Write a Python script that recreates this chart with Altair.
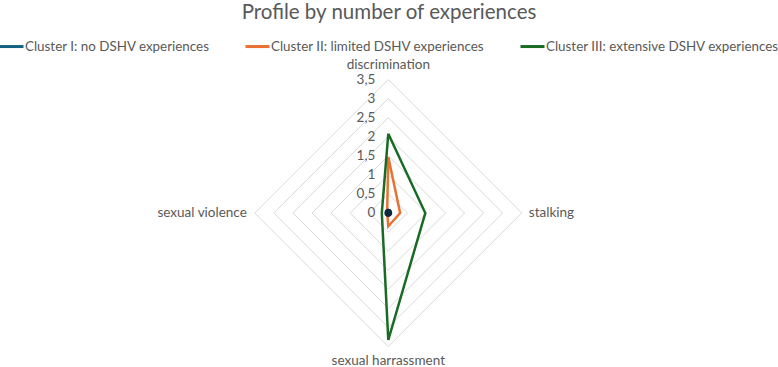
import altair as alt
import pandas as pd

# ---- data ----
axes_names = ["discrimination", "stalking", "sexual harrassment", "sexual violence"]
axes_angles = [0, 90, 180, 270]
clusters = [
    "Cluster I: no DSHV experiences",
    "Cluster II: limited DSHV experiences",
    "Cluster III: extensive DSHV experiences",
]
cluster1 = [0.03, 0.02, 0.02, 0.02]
cluster2 = [1.47, 0.31, 0.35, 0.03]
cluster3 = [2.08, 0.97, 3.33, 0.17]
colors = ["#156082", "#E97132", "#196B24"]
tick_values = [0, 0.5, 1, 1.5, 2, 2.5, 3, 3.5]
tick_labels = ["0", "0,5", "1", "1,5", "2", "2,5", "3", "3,5"]
title_text = "Profile by number of experiences"

FONT = "Lato"
GREY = "#595959"

# ---- tables ----
series_rows = []
for name, vals in zip(clusters, [cluster1, cluster2, cluster3]):
    for i in range(5):
        k = i % 4
        series_rows.append({"cluster": name, "order": i, "angle": axes_angles[k], "r": vals[k]})
series_df = pd.DataFrame(series_rows)

grid_rows = []
for tv in tick_values[1:]:
    for i in range(5):
        grid_rows.append({"ring": tv, "order": i, "angle": axes_angles[i % 4], "r": tv})
grid_df = pd.DataFrame(grid_rows)

tick_df = pd.DataFrame({"r": tick_values, "label": tick_labels, "angle": 0})
axis_df = pd.DataFrame({"name": axes_names, "angle": axes_angles, "r": 3.5})

xs = alt.Scale(domain=[-3.5, 3.5], range=[254.8, 521.8], nice=False, zero=False)
ys = alt.Scale(domain=[-3.5, 3.5], range=[346.5, 79.5], nice=False, zero=False)


def polar(ch):
    return ch.transform_calculate(
        x="datum.r * sin(datum.angle * PI / 180)",
        y="datum.r * cos(datum.angle * PI / 180)",
    )


X = alt.X("x:Q", scale=xs, axis=None)
Y = alt.Y("y:Q", scale=ys, axis=None)

grid = polar(alt.Chart(grid_df)).mark_line(stroke="#D9D9D9", strokeWidth=1).encode(
    x=X, y=Y, detail="ring:N", order="order:Q"
)

lines = polar(alt.Chart(series_df)).mark_line(strokeWidth=2.5, strokeJoin="miter").encode(
    x=X,
    y=Y,
    order="order:Q",
    color=alt.Color(
        "cluster:N",
        scale=alt.Scale(domain=clusters, range=colors),
        legend=alt.Legend(
            title=None,
            orient="none",
            legendX=-2,
            legendY=33,
            direction="horizontal",
            symbolType="stroke",
            symbolSize=576,
            symbolStrokeWidth=3,
            labelFont=FONT,
            labelFontSize=13.4,
            labelColor=GREY,
            labelOffset=0,
            labelLimit=400,
            columnPadding=29,
            padding=0,
        ),
    ),
)

dot = polar(alt.Chart(series_df[series_df["cluster"] == clusters[0]])).mark_point(
    filled=True, size=40, color="#0E2841", opacity=1
).encode(x=X, y=Y)

ticks = polar(alt.Chart(tick_df)).mark_text(
    align="right", baseline="middle", dx=-13, font=FONT, fontSize=13.5, color=GREY
).encode(x=X, y=Y, text="label:N")

lbl_top = polar(alt.Chart(axis_df)).transform_filter("datum.angle == 0").mark_text(
    align="center", baseline="middle", dy=-15, font=FONT, fontSize=13.5, color=GREY
).encode(x=X, y=Y, text="name:N")
lbl_bottom = polar(alt.Chart(axis_df)).transform_filter("datum.angle == 180").mark_text(
    align="center", baseline="middle", dy=14, font=FONT, fontSize=13.5, color=GREY
).encode(x=X, y=Y, text="name:N")
lbl_right = polar(alt.Chart(axis_df)).transform_filter("datum.angle == 90").mark_text(
    align="left", baseline="middle", dx=7, font=FONT, fontSize=13.5, color=GREY
).encode(x=X, y=Y, text="name:N")
lbl_left = polar(alt.Chart(axis_df)).transform_filter("datum.angle == 270").mark_text(
    align="right", baseline="middle", dx=-8, font=FONT, fontSize=13.5, color=GREY
).encode(x=X, y=Y, text="name:N")

title = alt.Chart(pd.DataFrame({"t": [title_text]})).mark_text(
    align="center", baseline="middle", font=FONT, fontSize=20.5, color=GREY
).encode(x=alt.value(389), y=alt.value(13), text="t:N")

chart = alt.layer(
    grid, lines, dot, ticks, lbl_top, lbl_bottom, lbl_right, lbl_left, title
).properties(
    width=778, height=367, autosize=alt.AutoSizeParams(type="none"), padding=0,
    background="white",
).configure_view(stroke=None)

chart.save("out.html", embed_options={"renderer": "svg", "actions": False})
